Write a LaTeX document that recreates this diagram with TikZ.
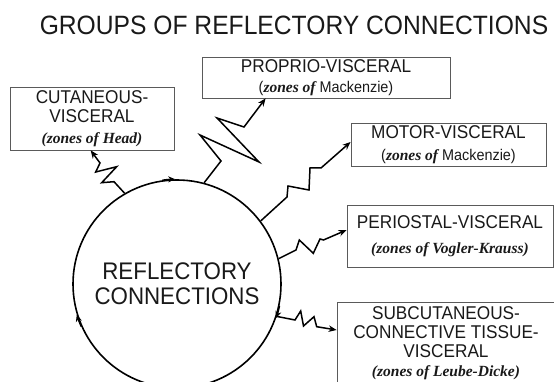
\documentclass[tikz,border=0pt]{standalone}
\usepackage{fontspec}
\setmainfont{Liberation Sans}[FakeStretch=0.93]
\newfontfamily\zonefont{Liberation Serif}
\usepackage{tikz}
\usetikzlibrary{arrows.meta}
\definecolor{boxgray}{HTML}{5A5A5A}
\newcommand{\smalltext}{\fontsize{15.5}{19}\selectfont}
\newcommand{\zones}[1]{{\zonefont\bfseries\itshape #1}}

\begin{document}
\begin{tikzpicture}[
        x=1pt, y=1pt,
        every node/.style={align=center, inner sep=0pt, text=black!90},
        group/.style={draw=boxgray, line width=0.8pt, fill=white, font=\fontsize{18.5}{19}\selectfont},
        zig/.style={line width=1.5pt, -{Stealth[length=8pt,width=6.5pt]}},
        turn/.style={line width=1.5pt, -{Stealth[length=7pt,width=6pt]}}
    ]
        \useasboundingbox (0,0) rectangle (554,382);
        \node[font=\fontsize{26.5}{30}\selectfont] (title) at (294,356.5) {GROUPS OF REFLECTORY CONNECTIONS};
        \node[draw, circle, line width=1.6pt, minimum size=208pt, font=\fontsize{24}{25}\selectfont] (core) at (177,98) {REFLECTORY\\CONNECTIONS};
        \node[group, minimum width=164pt, minimum height=63pt] (cutan) at (92,263.5) {CUTANEOUS-\\VISCERAL\\[2pt]{\smalltext\zones{(zones of Head)}}};
        \node[group, minimum width=248pt, minimum height=41pt] (proprio) at (326,304.5) {PROPRIO-VISCERAL\\[1pt]{\smalltext(\zones{zones of} Mackenzie)}};
        \node[group, minimum width=195pt, minimum height=43pt] (motor) at (448.5,237.5) {MOTOR-VISCERAL\\[3pt]{\smalltext(\zones{zones of} Mackenzie)}};
        \node[group, minimum width=206pt, minimum height=62pt] (perio) at (450,146) {PERIOSTAL-VISCERAL\\[6pt]{\smalltext\zones{(zones of Vogler-Krauss)}}};
        \node[group, minimum width=218pt, minimum height=83pt] (subcut) at (446,38.5) {SUBCUTANEOUS-\\CONNECTIVE TISSUE-\\VISCERAL\\{\smalltext\zones{(zones of Leube-Dicke)}}};
        \draw[zig] (core.120) -- (114,200.3) -- (101.7,199.3) -- (116.7,215.3) -- (95.7,210) -- (100,219) -- ([xshift=-1.3pt]cutan.south);
        \draw[zig] (core.75.7) -- (221,221) -- (200,247) -- (259,220) -- (217,264) -- (244,255) -- ([xshift=64pt]proprio.south west);
        \draw[zig] (core.37.5) -- (287,185) -- (288,196) -- (309,192) -- (310,214) -- (321,214) -- ([yshift=2.5pt]motor.west);
        \draw[zig] (core.14) -- (296,132) -- (299.3,142) -- (313.3,128.7) -- (320,143) -- (323.5,142) -- ([yshift=6pt]perio.west);
        \draw[zig] (core.-18) -- (295,62) -- (300.7,71) -- (303.5,56) -- (314,65.3) -- (316.7,55.3) -- ([yshift=13.5pt]subcut.west);
        \draw[turn] (core.98) arc[start angle=98, end angle=91, radius=104.8pt];
        \draw[turn] (core.204) arc[start angle=204, end angle=197, radius=104.8pt];
        \draw[turn] (core.-12) arc[start angle=-12, end angle=-19, radius=104.8pt];
    \end{tikzpicture}
\end{document}
